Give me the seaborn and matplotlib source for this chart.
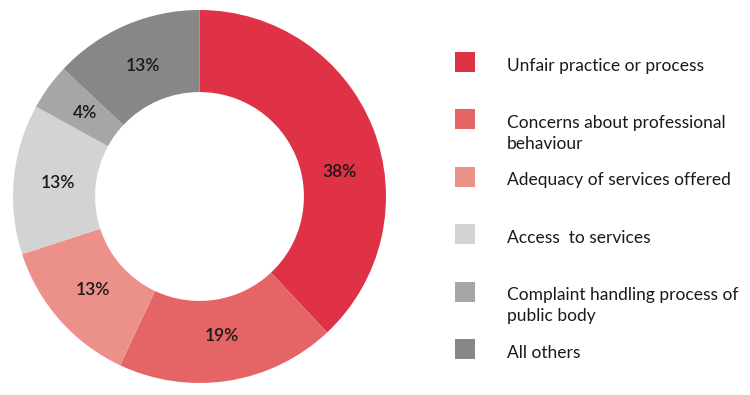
import matplotlib
matplotlib.use("Agg")
import matplotlib.pyplot as plt
from matplotlib.patches import Rectangle
import numpy as np
import seaborn as sns

categories = [
    "Unfair practice or process",
    "Concerns about professional\nbehaviour",
    "Adequacy of services offered",
    "Access  to services",
    "Complaint handling process of\npublic body",
    "All others",
]
values = [38, 19, 13, 13, 4, 13]
colors = ["#DF3246", "#E56567", "#EC9189", "#D3D3D3", "#A7A6A7", "#878787"]

sns.set_theme(style="white")
plt.rcParams["font.family"] = ["Lato", "DejaVu Sans"]
palette = sns.color_palette(colors)

W, H = 750, 395
fig = plt.figure(figsize=(W / 100, H / 100), dpi=100)

# donut axes (pixel box: x 12..387, y 10..383)
ax = fig.add_axes([12 / W, 12 / H, 375 / W, 373 / H])
wedges, texts = ax.pie(
    values,
    colors=palette,
    startangle=90,
    counterclock=False,
    radius=1.0,
    wedgeprops=dict(width=0.44, edgecolor="none", linewidth=0),
)
ax.set_aspect("equal")
ax.set_xlim(-1.0, 1.0)
ax.set_ylim(-1.0, 1.0)
ax.axis("off")

label_r = 0.76
angle_shift = [-11.5, 0, 0, 0, 0, 0]
for w, v, sh in zip(wedges, values, angle_shift):
    mid = np.deg2rad((w.theta1 + w.theta2) / 2 + sh)
    ax.text(label_r * np.cos(mid), label_r * np.sin(mid), f"{v}%",
            ha="center", va="center", fontsize=12.5, fontweight="semibold",
            color="#1a1a1a")

# legend drawn in pixel space
lax = fig.add_axes([0, 0, 1, 1])
lax.set_xlim(0, W)
lax.set_ylim(H, 0)
lax.axis("off")
lax.patch.set_alpha(0)
row0, step, line_h = 52, 57.4, 21
for i, (cat, col) in enumerate(zip(categories, palette)):
    y = row0 + i * step
    lax.add_patch(Rectangle((455, y), 20, 20, facecolor=col, edgecolor="none"))
    for k, line in enumerate(cat.split("\n")):
        lax.text(507, y + 18.5 + k * line_h, line, ha="left", va="baseline",
                 fontsize=12.5, color="#1a1a1a")

fig.savefig("out.png", dpi=100, facecolor="white")
